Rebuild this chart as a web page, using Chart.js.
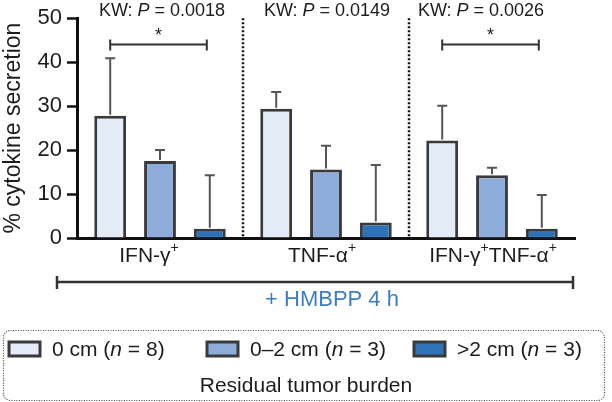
<!DOCTYPE html>
<html>
<head>
<meta charset="utf-8">
<script src="https://cdn.jsdelivr.net/npm/chart.js@4.4.1/dist/chart.umd.min.js"></script>
<style>
  html, body { margin: 0; padding: 0; background: #fff; }
  #wrap { width: 612px; height: 402px; }
</style>
</head>
<body>
<div id="wrap"><canvas id="chart" width="612" height="402"></canvas></div>
<script>
// ── Data ─────────────────────────────────────────────
const categories = ['IFN-γ+', 'TNF-α+', 'IFN-γ+TNF-α+'];
const groupLabels = ['0 cm', '0–2 cm', '>2 cm'];
const groupN = [8, 3, 3];
const mean0cm = [27.8, 29.4, 22.2];
const sd0cm = [13.1, 3.8, 7.9];
const mean02cm = [17.5, 15.6, 14.3];
const sd02cm = [2.5, 5.4, 1.7];
const meanOver2cm = [2.1, 3.5, 2.1];
const sdOver2cm = [12.2, 13.1, 7.7];
const kwP = ['0.0018', '0.0149', '0.0026'];
const sigCategories = [0, 2];   // '*' bracket between first and last bar
const yTicks = [0, 10, 20, 30, 40, 50];

// ── Style tokens ─────────────────────────────────────
const FONT = "'Liberation Sans', Arial, sans-serif";
const INK = '#1c1c1c';
const FILLS = ['#e4ecf8', '#8eacd9', '#2e72b7'];
const EDGE = '#3a3a3a';
const BLUE = '#3d7dc8';

function font(size, italic) {
  return (italic ? 'italic ' : '') + size + 'px ' + FONT;
}

// draw a list of text runs centred on cx
function drawRuns(ctx, runs, cx, y) {
  let total = 0;
  runs.forEach(r => { ctx.font = r.font; r.w = ctx.measureText(r.t).width; total += r.w; });
  let x = cx - total / 2;
  runs.forEach(r => {
    ctx.font = r.font;
    ctx.fillText(r.t, x, y + (r.dy || 0));
    x += r.w;
  });
}

// 'IFN-γ+' -> runs with superscript plus
function labelRuns(label) {
  const runs = [];
  label.split('+').forEach((part, i, arr) => {
    if (part) runs.push({ t: part, font: font(21) });
    if (i < arr.length - 1) runs.push({ t: '+', font: font(14), dy: -8 });
  });
  return runs;
}

const sdSets = [sd0cm, sd02cm, sdOver2cm];

const decorPlugin = {
  id: 'decor',
  afterDatasetsDraw(chart) {
    const { ctx, chartArea: a, scales: { x, y } } = chart;
    ctx.save();

    // error bars (upper only)
    chart.data.datasets.forEach((ds, di) => {
      const meta = chart.getDatasetMeta(di);
      meta.data.forEach((bar, j) => {
        const top = y.getPixelForValue(ds.data[j] + sdSets[di][j]);
        const base = y.getPixelForValue(ds.data[j]);
        ctx.strokeStyle = '#555';
        ctx.lineWidth = 2;
        ctx.beginPath();
        ctx.moveTo(bar.x, base - 1);
        ctx.lineTo(bar.x, top);
        ctx.moveTo(bar.x - 5, top);
        ctx.lineTo(bar.x + 5, top);
        ctx.stroke();
      });
    });

    // dotted separators between categories
    ctx.strokeStyle = '#111';
    ctx.lineWidth = 2.5;
    ctx.setLineDash([2, 2]);
    for (let i = 0; i < categories.length - 1; i++) {
      const sx = Math.round((x.getPixelForValue(i) + x.getPixelForValue(i + 1)) / 2);
      ctx.beginPath();
      ctx.moveTo(sx, a.top);
      ctx.lineTo(sx, a.bottom);
      ctx.stroke();
    }
    ctx.setLineDash([]);

    // significance brackets
    const by = y.getPixelForValue(44);
    sigCategories.forEach(ci => {
      const x1 = chart.getDatasetMeta(0).data[ci].x;
      const x2 = chart.getDatasetMeta(2).data[ci].x - 3;
      ctx.strokeStyle = '#333';
      ctx.lineWidth = 2;
      ctx.beginPath();
      ctx.moveTo(x1, by); ctx.lineTo(x2, by);
      ctx.moveTo(x1, by - 5); ctx.lineTo(x1, by + 6);
      ctx.moveTo(x2, by - 5); ctx.lineTo(x2, by + 6);
      ctx.stroke();
      ctx.fillStyle = INK;
      ctx.font = font(18);
      ctx.textAlign = 'center';
      ctx.textBaseline = 'middle';
      ctx.fillText('*', (x1 + x2) / 2, by - 9);
    });

    // KW p-values and category labels
    ctx.fillStyle = INK;
    ctx.textAlign = 'left';
    ctx.textBaseline = 'middle';
    const kwDx = [2, 1, -11];
    const labDx = [-11, -4, 1];
    categories.forEach((c, i) => {
      const cx = x.getPixelForValue(i);
      drawRuns(ctx, [
        { t: 'KW: ', font: font(18) },
        { t: 'P', font: font(18, true) },
        { t: ' = ' + kwP[i], font: font(18) }
      ], cx + kwDx[i], 11);
      drawRuns(ctx, labelRuns(c), cx + labDx[i], 256);
    });

    // treatment bracket
    ctx.strokeStyle = '#333';
    ctx.lineWidth = 2.5;
    ctx.beginPath();
    ctx.moveTo(57, 282); ctx.lineTo(573, 282);
    ctx.moveTo(57, 276); ctx.lineTo(57, 289);
    ctx.moveTo(573, 276); ctx.lineTo(573, 289);
    ctx.stroke();
    ctx.fillStyle = BLUE;
    ctx.textAlign = 'center';
    ctx.font = font(22);
    ctx.fillText('+ HMBPP 4 h', 332, 300);

    // legend box
    ctx.strokeStyle = '#444';
    ctx.lineWidth = 1.2;
    ctx.setLineDash([1, 1.5]);
    ctx.beginPath();
    ctx.roundRect(3.5, 330.5, 601, 70, 7);
    ctx.stroke();
    ctx.setLineDash([]);

    const swX = [9, 207, 414];
    chart.data.datasets.forEach((ds, i) => {
      ctx.fillStyle = ds.backgroundColor;
      ctx.fillRect(swX[i], 342, 31, 14);
      ctx.strokeStyle = EDGE;
      ctx.lineWidth = 3;
      ctx.strokeRect(swX[i], 342, 31, 14);
      ctx.fillStyle = INK;
      ctx.textAlign = 'left';
      const runs = [
        { t: ds.label + ' (', font: font(21) },
        { t: 'n', font: font(21, true) },
        { t: ' = ' + groupN[i] + ')', font: font(21) }
      ];
      let tw = 0;
      runs.forEach(r => { ctx.font = r.font; tw += ctx.measureText(r.t).width; });
      drawRuns(ctx, runs, swX[i] + 43 + tw / 2, 350);
    });
    ctx.textAlign = 'left';
    drawRuns(ctx, [{ t: 'Residual tumor burden', font: font(21) }], 306, 386);

    ctx.restore();
  }
};

new Chart(document.getElementById('chart'), {
  type: 'bar',
  data: {
    labels: categories,
    datasets: [
      { label: groupLabels[0], data: mean0cm, backgroundColor: FILLS[0] },
      { label: groupLabels[1], data: mean02cm, backgroundColor: FILLS[1] },
      { label: groupLabels[2], data: meanOver2cm, backgroundColor: FILLS[2] }
    ]
  },
  options: {
    responsive: false,
    animation: false,
    devicePixelRatio: 1,
    layout: { padding: { top: 15.7, right: 37, bottom: 164, left: 0 } },
    datasets: {
      bar: {
        borderColor: EDGE,
        borderWidth: 3,
        borderSkipped: 'bottom',
        categoryPercentage: 0.9,
        barPercentage: 0.64
      }
    },
    plugins: {
      legend: { display: false },
      tooltip: { enabled: false }
    },
    scales: {
      x: {
        grid: { display: false },
        ticks: { display: false },
        border: { display: true, color: '#111', width: 3 },
        afterFit: s => { s.height = 0; }
      },
      y: {
        min: 0,
        max: 50,
        afterFit: s => { s.width = 77; },
        afterBuildTicks: s => { s.ticks = yTicks.map(v => ({ value: v })); },
        grid: {
          drawOnChartArea: false,
          drawTicks: true,
          tickLength: 10,
          tickWidth: 2.5,
          tickColor: '#111'
        },
        border: { display: true, color: '#111', width: 3 },
        ticks: {
          padding: 5,
          color: INK,
          font: { family: FONT, size: 22 }
        },
        title: {
          display: true,
          text: '% cytokine secretion',
          color: INK,
          padding: 0,
          font: { family: FONT, size: 23 }
        }
      }
    }
  },
  plugins: [decorPlugin]
});
</script>
</body>
</html>
